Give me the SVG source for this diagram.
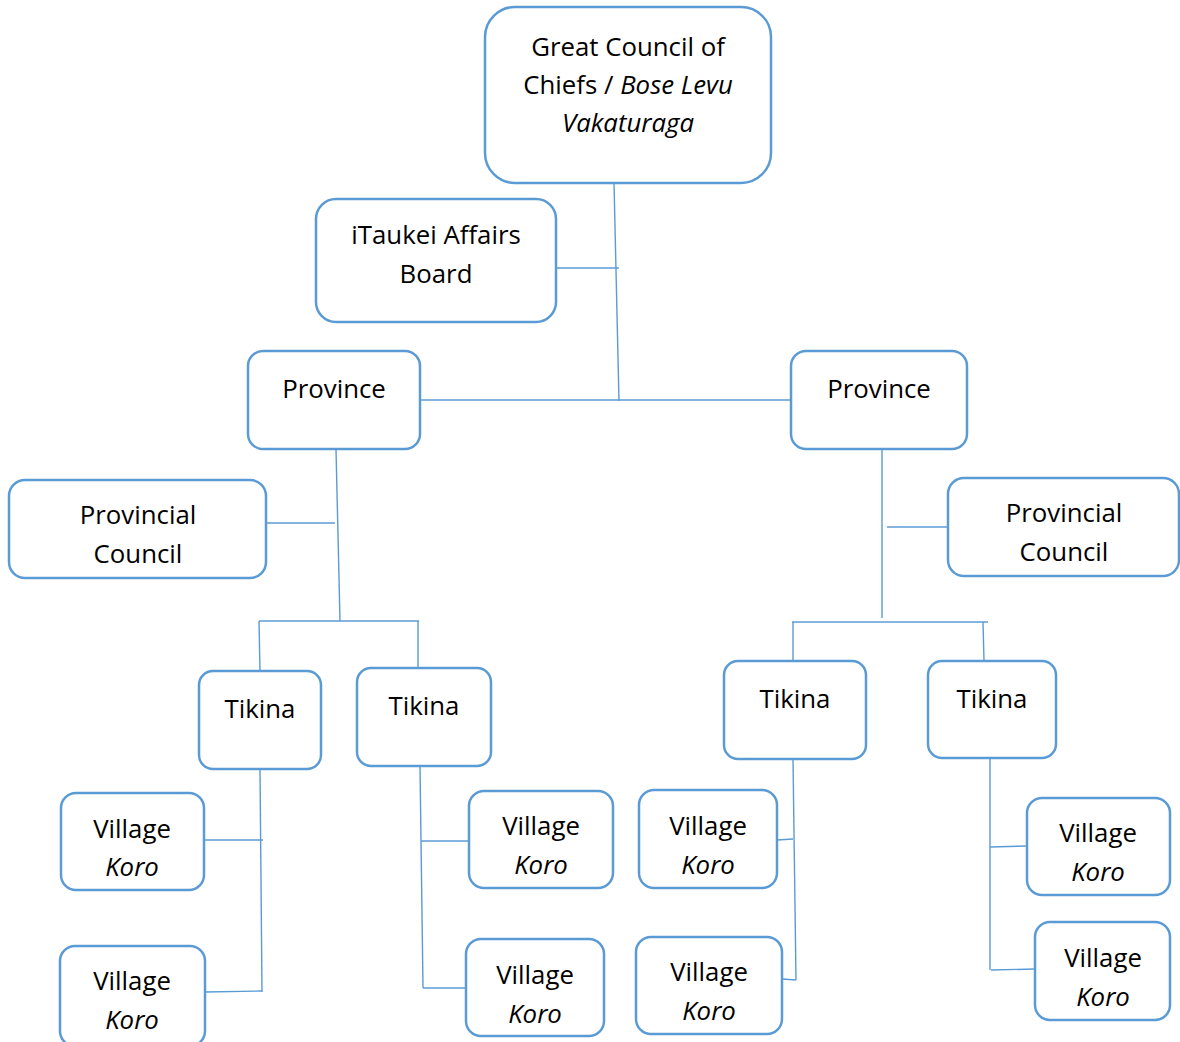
<svg xmlns="http://www.w3.org/2000/svg" width="1180" height="1042" viewBox="0 0 1180 1042">
<style>
.box{fill:#fff;stroke:#5B9BD5;stroke-width:2.5}
.t{font-family:"Open Sans","Noto Sans",sans-serif;font-size:25.8px;fill:#000;text-anchor:middle}
.i{font-style:italic}
.c{stroke:#5B9BD5;stroke-width:1.4;fill:none}
</style>
<rect width="1180" height="1042" fill="#fff"/>
<g id="connectors">
<line class="c" x1="614" y1="183" x2="619" y2="401"/>
<line class="c" x1="556" y1="268" x2="619" y2="268"/>
<line class="c" x1="418" y1="400" x2="793" y2="400"/>
<line class="c" x1="336" y1="449" x2="340" y2="621"/>
<line class="c" x1="266" y1="523" x2="335" y2="523"/>
<line class="c" x1="259" y1="621" x2="419" y2="621"/>
<line class="c" x1="259" y1="621" x2="260" y2="671"/>
<line class="c" x1="418" y1="621" x2="418" y2="668"/>
<line class="c" x1="882" y1="449" x2="882" y2="618"/>
<line class="c" x1="887" y1="527" x2="948" y2="527"/>
<line class="c" x1="792" y1="622" x2="988" y2="622"/>
<line class="c" x1="793" y1="622" x2="793" y2="661"/>
<line class="c" x1="983" y1="622" x2="984" y2="661"/>
<line class="c" x1="260" y1="769" x2="262" y2="992"/>
<line class="c" x1="203" y1="840" x2="263" y2="840"/>
<line class="c" x1="205" y1="992" x2="262" y2="991"/>
<line class="c" x1="420" y1="766" x2="423" y2="988"/>
<line class="c" x1="421" y1="841" x2="469" y2="841"/>
<line class="c" x1="423" y1="988" x2="466" y2="988"/>
<line class="c" x1="793" y1="759" x2="796" y2="980"/>
<line class="c" x1="777" y1="840" x2="793" y2="839"/>
<line class="c" x1="782" y1="979" x2="796" y2="980"/>
<line class="c" x1="990" y1="758" x2="990" y2="970"/>
<line class="c" x1="990" y1="847" x2="1027" y2="846"/>
<line class="c" x1="991" y1="970" x2="1035" y2="969"/>
</g>
<g id="gcc">
<rect class="box" x="485" y="7" width="286" height="176" rx="30"/>
<text class="t" x="628" y="56">Great Council of</text>
<text class="t" x="628" y="94">Chiefs / <tspan class="i">Bose Levu</tspan></text>
<text class="t i" x="628" y="132">Vakaturaga</text>
</g>
<g id="itaukei">
<rect class="box" x="316" y="199" width="240" height="123" rx="20"/>
<text class="t" x="436" y="244">iTaukei Affairs</text>
<text class="t" x="436" y="283">Board</text>
</g>
<g id="province-left">
<rect class="box" x="248" y="351" width="172" height="98" rx="15"/>
<text class="t" x="334" y="398">Province</text>
</g>
<g id="province-right">
<rect class="box" x="791" y="351" width="176" height="98" rx="15"/>
<text class="t" x="879" y="398">Province</text>
</g>
<g id="pc-left">
<rect class="box" x="9" y="480" width="257" height="98" rx="16"/>
<text class="t" x="138" y="524">Provincial</text>
<text class="t" x="138" y="563">Council</text>
</g>
<g id="pc-right">
<rect class="box" x="948" y="478" width="231" height="98" rx="16"/>
<text class="t" x="1064" y="522">Provincial</text>
<text class="t" x="1064" y="561">Council</text>
</g>
<g id="tikina-l1">
<rect class="box" x="199" y="671" width="122" height="98" rx="14"/>
<text class="t" x="260" y="718">Tikina</text>
</g>
<g id="tikina-l2">
<rect class="box" x="357" y="668" width="134" height="98" rx="14"/>
<text class="t" x="424" y="715">Tikina</text>
</g>
<g id="tikina-r1">
<rect class="box" x="724" y="661" width="142" height="98" rx="14"/>
<text class="t" x="795" y="708">Tikina</text>
</g>
<g id="tikina-r2">
<rect class="box" x="928" y="661" width="128" height="97" rx="14"/>
<text class="t" x="992" y="708">Tikina</text>
</g>
<g id="village-l1a">
<rect class="box" x="61" y="793" width="143" height="97" rx="15"/>
<text class="t" x="132" y="838">Village</text>
<text class="t i" x="132" y="876">Koro</text>
</g>
<g id="village-l1b">
<rect class="box" x="60" y="946" width="145" height="100" rx="15"/>
<text class="t" x="132" y="990">Village</text>
<text class="t i" x="132" y="1029">Koro</text>
</g>
<g id="village-l2a">
<rect class="box" x="469" y="791" width="144" height="97" rx="15"/>
<text class="t" x="541" y="835">Village</text>
<text class="t i" x="541" y="874">Koro</text>
</g>
<g id="village-l2b">
<rect class="box" x="466" y="939" width="138" height="97" rx="15"/>
<text class="t" x="535" y="984">Village</text>
<text class="t i" x="535" y="1023">Koro</text>
</g>
<g id="village-r1a">
<rect class="box" x="639" y="790" width="138" height="98" rx="15"/>
<text class="t" x="708" y="835">Village</text>
<text class="t i" x="708" y="874">Koro</text>
</g>
<g id="village-r1b">
<rect class="box" x="636" y="937" width="146" height="97" rx="15"/>
<text class="t" x="709" y="981">Village</text>
<text class="t i" x="709" y="1020">Koro</text>
</g>
<g id="village-r2a">
<rect class="box" x="1027" y="798" width="143" height="97" rx="15"/>
<text class="t" x="1098" y="842">Village</text>
<text class="t i" x="1098" y="881">Koro</text>
</g>
<g id="village-r2b">
<rect class="box" x="1035" y="922" width="135" height="98" rx="15"/>
<text class="t" x="1103" y="967">Village</text>
<text class="t i" x="1103" y="1006">Koro</text>
</g>
</svg>
